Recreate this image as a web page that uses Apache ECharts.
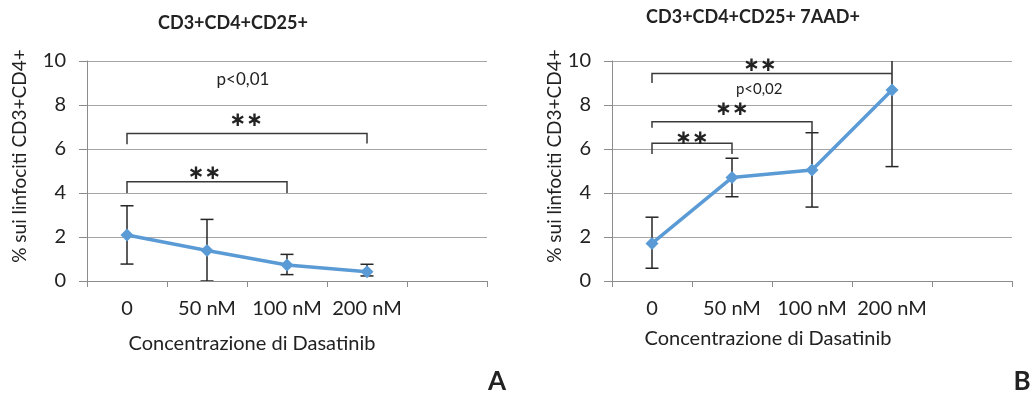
<!DOCTYPE html>
<html><head><meta charset="utf-8">
<script src="https://cdn.jsdelivr.net/npm/echarts@6/dist/echarts.min.js"></script>
<style>html,body{margin:0;padding:0;background:#fff}#c{width:1034px;height:396px}</style>
</head><body><div id="c"></div>
<script>
// ---- data ----
const categories = ['0', '50 nM', '100 nM', '200 nM', ''];
const yTicks = [0, 2, 4, 6, 8, 10];
const titleA = 'CD3+CD4+CD25+';
const titleB = 'CD3+CD4+CD25+ 7AAD+';
const yName = '% sui linfociti CD3+CD4+';
const xName = 'Concentrazione di Dasatinib';

const meanA = [2.09, 1.39, 0.73, 0.42];
const lowA  = [0.77, 0.0, 0.29, 0.23];
const highA = [3.42, 2.80, 1.21, 0.76];

const meanB = [1.71, 4.70, 5.05, 8.68];
const lowB  = [0.58, 3.83, 3.36, 5.20];
const highB = [2.90, 5.58, 6.74, 12.16];

// brackets: [fromCat, toCat, top, leftLegBottom, rightLegBottom]
const bracketsA = [[0, 2, 4.51, 4.0, 4.0], [0, 3, 6.7, 6.22, 6.25]];
const bracketsB = [[0, 1, 6.26, 5.77, 5.77], [0, 2, 7.24, 6.97, 6.74], [0, 3, 9.43, 9.0, 9.43]];
// annotations: [categoryPosition, value, text, fontSize]
const annotA = [[0.97, 4.95, '**', 0], [1.49, 7.36, '**', 0], [1.45, 9.14, 'p<0,01', 17]];
const annotB = [[0.5, 6.55, '**', 0], [1.0, 7.85, '**', 0], [1.35, 9.85, '**', 0], [1.34, 8.71, 'p<0,02', 15]];

const FONT = 'Lato';
const BLUE = '#5b9bd5';
const chart = echarts.init(document.getElementById('c'));

function errSeries(gi, low, high) {
  return {
    type: 'custom', xAxisIndex: gi, yAxisIndex: gi, clip: true, z: 3,
    data: low.map((l, i) => [i, l, high[i]]),
    renderItem(params, api) {
      const i = params.dataIndex;
      const a = api.coord([i, low[i]]);
      const b = api.coord([i, high[i]]);
      const w = 6.5;
      const st = { stroke: '#262626', lineWidth: 1.5 };
      return { type: 'group', children: [
        { type: 'line', shape: { x1: a[0], y1: a[1], x2: b[0], y2: b[1] }, style: st },
        { type: 'line', shape: { x1: a[0] - w, y1: a[1], x2: a[0] + w, y2: a[1] }, style: st },
        { type: 'line', shape: { x1: b[0] - w, y1: b[1], x2: b[0] + w, y2: b[1] }, style: st }
      ]};
    }
  };
}
function bracketSeries(gi, br) {
  return {
    type: 'custom', xAxisIndex: gi, yAxisIndex: gi, clip: false, z: 4,
    data: br.map(b => [b[0], b[2]]),
    renderItem(params, api) {
      const b = br[params.dataIndex];
      const l0 = api.coord([b[0], b[2]]), r0 = api.coord([b[1], b[2]]);
      const l1 = api.coord([b[0], b[3]]), r1 = api.coord([b[1], b[4]]);
      return { type: 'polyline', shape: { points: [[l1[0], l1[1]], [l0[0], l0[1]], [r0[0], r0[1]], [r1[0], r1[1]]] },
        style: { stroke: '#3a3a3a', lineWidth: 1.5, fill: null } };
    }
  };
}
function annotSeries(gi, an) {
  return {
    type: 'custom', xAxisIndex: gi, yAxisIndex: gi, clip: false, z: 5,
    data: an.map(a => [0, a[1]]),
    renderItem(params, api) {
      const a = an[params.dataIndex];
      const p0 = api.coord([0, a[1]]), p1 = api.coord([1, a[1]]);
      const x = p0[0] + a[0] * (p1[0] - p0[0]);
      const star = a[2] === '**';
      return { type: 'text', x: x, y: p0[1] + (star ? 1.5 : 0),
        style: { text: star ? '∗∗' : a[2], fontFamily: star ? 'DejaVu Sans' : FONT, fontSize: star ? 20 : a[3],
          fontWeight: star ? 'bold' : 'normal',
          fill: '#222', align: 'center', verticalAlign: 'middle' } };
    }
  };
}
function lineSeries(gi, mean) {
  return { type: 'line', xAxisIndex: gi, yAxisIndex: gi, data: mean, symbol: 'diamond', symbolSize: 13,
    lineStyle: { color: BLUE, width: 3.5 }, itemStyle: { color: BLUE }, z: 6, animation: false };
}
const grids = [
  { left: 87, top: 61, width: 400, height: 220 },
  { left: 612, top: 61, width: 400, height: 220 }
];
const xAxes = grids.map((g, i) => ({
  type: 'category', gridIndex: i, data: categories, boundaryGap: true,
  axisLine: { lineStyle: { color: '#8c8c8c', width: 1 } },
  axisTick: { show: true, length: 6, lineStyle: { color: '#8c8c8c' } },
  axisLabel: { fontFamily: FONT, fontSize: 20, color: '#222', margin: 18, interval: 0 }
}));
const yAxes = grids.map((g, i) => ({
  type: 'value', gridIndex: i, min: 0, max: 10, interval: 2,
  axisLine: { show: true, lineStyle: { color: '#8c8c8c', width: 1 } },
  axisTick: { show: true, length: 8, inside: false, lineStyle: { color: '#8c8c8c' } },
  splitLine: { lineStyle: { color: '#a6a6a6', width: 1 } },
  axisLabel: { fontFamily: FONT, fontSize: 20, color: '#222', margin: 21,
    formatter: v => yTicks.includes(v) ? String(v) : '' }
}));
const txt = (x, y, text, size, weight, rot) => ({
  type: 'text', x: x, y: y, rotation: rot || 0,
  style: { text: text, fontFamily: FONT, fontSize: size, fontWeight: weight || 'normal', fill: '#222', align: 'center', verticalAlign: 'middle' }
});
chart.setOption({
  animation: false,
  backgroundColor: '#fff',
  grid: grids,
  xAxis: xAxes,
  yAxis: yAxes,
  series: [
    errSeries(0, lowA, highA), lineSeries(0, meanA), bracketSeries(0, bracketsA), annotSeries(0, annotA),
    errSeries(1, lowB, highB), lineSeries(1, meanB), bracketSeries(1, bracketsB), annotSeries(1, annotB)
  ],
  graphic: [
    txt(233, 23, titleA, 18, 'bold'),
    txt(753, 17, titleB, 18, 'bold'),
    txt(20, 156, yName, 19, 'normal', Math.PI / 2),
    txt(555, 156, yName, 19, 'normal', Math.PI / 2),
    txt(252, 344, xName, 20),
    txt(768, 339, xName, 20),
    txt(497, 382, 'A', 26, 'bold'),
    txt(1022, 382, 'B', 26, 'bold')
  ]
});
</script></body></html>
